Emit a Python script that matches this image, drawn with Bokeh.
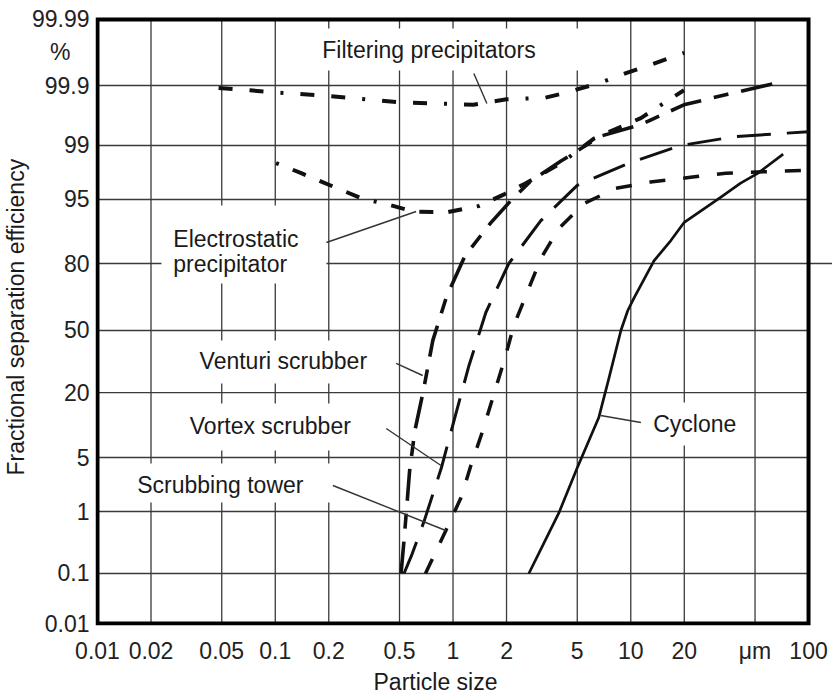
import numpy as np
from bokeh.plotting import figure
from bokeh.models import FixedTicker, Range1d, Title
from bokeh.core.properties import value
from bokeh.embed import file_html
from bokeh.resources import INLINE

# ---------------- data ----------------
# y axis: efficiency ticks (%) and their positions on the chart's (distorted) grid
EFF_TICKS = [0.01, 0.1, 1, 5, 20, 50, 80, 95, 99, 99.9, 99.99]
EFF_TICK_LABELS = ["0.01", "0.1", "1", "5", "20", "50", "80", "95", "99", "99.9", "99.99"]
EFF_TICK_POS = [0.0, 0.828, 1.854, 2.748, 3.824, 4.851, 5.960, 7.020, 7.914, 8.907, 10.0]
UNIT_POS = 9.454          # where the "%" unit sits on the y axis
UNIT_LABEL = "%\u00a0\u00a0\u00a0"

# x axis: particle size (µm)
SIZE_TICKS = [0.01, 0.02, 0.05, 0.1, 0.2, 0.5, 1.0, 2.0, 5.0, 10.0, 20.0, 50.0, 100.0]
SIZE_TICK_LABELS = ["0.01", "0.02", "0.05", "0.1", "0.2", "0.5", "1", "2", "5", "10", "20", "μm", "100"]

FILTER_X = [0.048, 0.1, 0.2, 0.5, 1.3, 2.0, 3.3, 4.4, 6.8, 9.4, 13.1, 20.0]
FILTER_Y = [99.89, 99.87, 99.85, 99.81, 99.79, 99.83, 99.84, 99.87, 99.91, 99.935, 99.952, 99.968]

ELECTRO_X = [0.101, 0.14, 0.21, 0.31, 0.43, 0.60, 0.92, 1.40, 1.94, 2.57, 4.05, 6.2, 11.4, 19.9]
ELECTRO_Y = [98.3, 97.7, 96.6, 95.1, 94.4, 93.4, 93.3, 94.2, 95.7, 96.9, 98.3, 99.23, 99.65, 99.88]

VENTURI_X = [0.51, 0.53, 0.55, 0.57, 0.61, 0.68, 0.77, 0.92, 1.17, 1.63, 2.12, 2.74, 4.05, 6.77, 11.4, 19.9, 35.1, 67.7]
VENTURI_Y = [0.1, 0.34, 1.2, 3.4, 9.1, 20.4, 44.5, 66.9, 82.9, 91.5, 94.9, 97.1, 98.4, 99.3, 99.55, 99.79, 99.86, 99.91]

VORTEX_X = [0.53, 0.59, 0.69, 0.86, 1.03, 1.23, 1.53, 2.06, 3.12, 5.0, 9.75, 19.1, 38.9, 100.0]
VORTEX_Y = [0.1, 0.21, 0.72, 3.7, 12.5, 31.4, 59.2, 80.0, 91.9, 96.7, 98.3, 99.0, 99.29, 99.41]

SCRUB_X = [0.70, 0.91, 1.11, 1.26, 1.47, 1.70, 1.94, 2.2, 2.64, 3.12, 3.94, 5.45, 8.24, 12.9, 21.7, 34.2, 100.0]
SCRUB_Y = [0.1, 0.49, 1.53, 3.95, 9.1, 19.5, 33.8, 52.6, 69.6, 81.9, 90.4, 94.5, 96.4, 97.0, 97.4, 97.7, 97.9]

CYCLONE_X = [2.67, 3.24, 3.94, 5.0, 6.6, 7.5, 8.8, 9.62, 10.4, 13.5, 16.8, 20.0, 32.0, 41.5, 52.0, 72.0]
CYCLONE_Y = [0.1, 0.306, 0.95, 3.7, 12.0, 25.0, 50.0, 60.2, 66.0, 81.0, 87.5, 91.6, 95.3, 96.9, 97.7, 98.7]

# annotation texts (centre positions in data units)
LABEL_TEXT = ["Filtering precipitators", "Venturi scrubber", "Vortex scrubber", "Scrubbing tower", "Cyclone"]
LABEL_X = [0.733, 0.111, 0.0938, 0.0491, 22.9]
LABEL_Y = [9.503, 4.338, 3.278, 2.285, 3.311]
ESP_TEXT = ["Electrostatic", "precipitator"]
ESP_X = [0.0267, 0.0267]
ESP_Y = [6.374, 5.960]

# white boxes behind the annotation texts
BOX_L = [0.123, 0.0229, 0.0316, 0.0278, 0.01455, 12.1]
BOX_R = [5.58, 0.194, 0.394, 0.324, 0.211, 44.3]
BOX_T = [9.851, 6.921, 4.685, 3.642, 2.649, 3.659]
BOX_B = [9.156, 5.629, 3.974, 2.864, 2.003, 2.947]

# leader lines
LEAD_X0 = [1.31, 0.194, 0.479, 0.421, 0.211, 11.4]
LEAD_Y0 = [9.106, 6.308, 4.305, 3.228, 2.285, 3.328]
LEAD_X1 = [1.55, 0.62, 0.675, 0.856, 0.91, 6.77]
LEAD_Y1 = [8.609, 6.821, 4.106, 2.616, 1.540, 3.444]


def logit(pct):
    pct = np.asarray(pct, dtype=float)
    return np.log(pct / (100.0 - pct))


def eff_pos(pct):
    """map efficiency (%) onto the chart's grid position"""
    return np.interp(logit(pct), logit(EFF_TICKS), EFF_TICK_POS)


FONT = "Liberation Sans"
FS = "23px"
INK = "#111111"
GRID = "#3a3a3a"
TXT = "#1a1a1a"

X_END = 136.4
p = figure(width=832, height=694, x_axis_type="log",
           x_range=Range1d(0.009744, X_END), y_range=Range1d(-0.033, 10.066),
           output_backend="svg", toolbar_location=None,
           min_border_left=94, min_border_right=0, min_border_top=15, min_border_bottom=69)
p.xgrid.visible = False
p.ygrid.visible = False
p.outline_line_color = None
p.background_fill_color = "white"
p.border_fill_color = "white"

xa = p.xaxis[0]
xa.ticker = FixedTicker(ticks=SIZE_TICKS)
xa.major_label_overrides = {float(t): l for t, l in zip(SIZE_TICKS, SIZE_TICK_LABELS)}
ya = p.yaxis[0]
ya.ticker = FixedTicker(ticks=EFF_TICK_POS + [UNIT_POS])
ov = {float(t): l for t, l in zip(EFF_TICK_POS, EFF_TICK_LABELS)}
ov[float(UNIT_POS)] = UNIT_LABEL
ya.major_label_overrides = ov
for ax in (xa, ya):
    ax.axis_line_color = None
    ax.major_tick_line_color = None
    ax.minor_tick_line_color = None
    ax.major_label_text_font = FONT
    ax.major_label_text_font_size = FS
    ax.major_label_text_color = "#222222"
xa.major_label_standoff = 6
ya.major_label_standoff = 0

# axis titles
p.add_layout(Title(text="Particle size", align="left", offset=278, standoff=0,
                   text_font=FONT, text_font_size=FS, text_font_style="normal",
                   text_color=TXT), "below")
p.add_layout(Title(text="Fractional separation efficiency", align="left", offset=150, standoff=0,
                   text_font=FONT, text_font_size=FS, text_font_style="normal",
                   text_color=TXT), "left")

# grid lines
gx = SIZE_TICKS[1:-1]
p.segment(x0=gx, x1=gx, y0=[EFF_TICK_POS[0]] * len(gx), y1=[EFF_TICK_POS[-1]] * len(gx),
          line_color=GRID, line_width=1.3)
gy = EFF_TICK_POS[1:-1]
gx1 = [X_END if v == 80 else SIZE_TICKS[-1] for v in EFF_TICKS[1:-1]]
p.segment(x0=[SIZE_TICKS[0]] * len(gy), x1=gx1, y0=gy, y1=gy, line_color=GRID, line_width=1.3)

# white boxes behind texts
p.quad(left=BOX_L, right=BOX_R, top=BOX_T, bottom=BOX_B, fill_color="white", line_color=None)

# frame
p.line(x=[SIZE_TICKS[0], SIZE_TICKS[-1], SIZE_TICKS[-1], SIZE_TICKS[0], SIZE_TICKS[0]],
       y=[EFF_TICK_POS[0], EFF_TICK_POS[0], EFF_TICK_POS[-1], EFF_TICK_POS[-1], EFF_TICK_POS[0]],
       line_color="black", line_width=4, line_join="miter", line_cap="square")

# curves
p.line(FILTER_X, eff_pos(FILTER_Y), line_color=INK, line_width=4, line_dash="14 17 14 17 3 17")
p.line(ELECTRO_X, eff_pos(ELECTRO_Y), line_color=INK, line_width=4, line_dash="3 15 14 15 14 15 14 15")
p.line(VENTURI_X, eff_pos(VENTURI_Y), line_color=INK, line_width=3.6, line_dash="32 13 15 13")
p.line(VORTEX_X, eff_pos(VORTEX_Y), line_color=INK, line_width=3, line_dash="34 16")
p.line(SCRUB_X, eff_pos(SCRUB_Y), line_color=INK, line_width=3.5, line_dash="16 18")
p.line(CYCLONE_X, eff_pos(CYCLONE_Y), line_color=INK, line_width=2.7, line_join="round")

# leader lines
p.segment(x0=LEAD_X0, y0=LEAD_Y0, x1=LEAD_X1, y1=LEAD_Y1, line_color="#333333", line_width=1.4)

# annotation texts
p.text(x=LABEL_X, y=LABEL_Y, text=LABEL_TEXT, text_font=value(FONT), text_font_size=value(FS),
       text_color=TXT, text_align="center", text_baseline="middle")
p.text(x=ESP_X, y=ESP_Y, text=ESP_TEXT, text_font=value(FONT), text_font_size=value(FS),
       text_color=TXT, text_align="left", text_baseline="middle")

open("out.html", "w").write(file_html(p, INLINE))
